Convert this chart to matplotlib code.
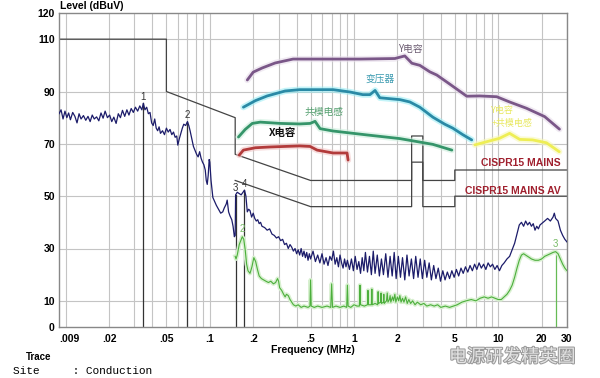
import matplotlib
matplotlib.use("Agg")
from matplotlib import pyplot as plt
from matplotlib import patheffects as pe
from matplotlib.ticker import FixedLocator, NullFormatter

CJK = ['Noto Sans CJK SC', 'DejaVu Sans']
plt.rcParams['font.family'] = ['Liberation Sans', 'Noto Sans CJK SC', 'DejaVu Sans']

# ---- data (MHz, dBuV) ----
xtick_vals = [0.009, 0.02, 0.05, 0.1, 0.2, 0.5, 1, 2, 5, 10, 20, 30]
xtick_text = ['.009', '.02', '.05', '.1', '.2', '.5', '1', '2', '5', '10', '20', '30']
ytick_vals = [0, 10, 30, 50, 70, 90, 110, 120]

qp_f = [0.009, 0.05, 0.05, 0.15, 0.15, 0.5, 2.51, 2.51, 3.0, 3.0, 5.0, 5.0, 30]
qp_v = [110, 110, 90, 80, 66, 56, 56, 73, 73, 56, 56, 60, 60]
av_f = [0.15, 0.5, 2.51, 2.51, 3.0, 3.0, 5.0, 5.0, 30]
av_v = [56, 46, 46, 63, 63, 46, 46, 50, 50]

blue_f = [0.0090, 0.0093, 0.0096, 0.0099, 0.0102, 0.0105, 0.0108, 0.0112, 0.0116, 0.0120,
          0.0124, 0.0128, 0.0133, 0.0138, 0.0143, 0.0148, 0.0153, 0.0158, 0.0164, 0.0170,
          0.0176, 0.0182, 0.0188, 0.0195, 0.0202, 0.0209, 0.0216, 0.0224, 0.0232, 0.0240,
          0.0248, 0.0257, 0.0266, 0.0275, 0.0285, 0.0295, 0.0305, 0.0316, 0.0327, 0.0338,
          0.0346, 0.0355, 0.0365, 0.0375, 0.0385, 0.0395, 0.0405, 0.0415, 0.0425, 0.0435,
          0.0445, 0.0455, 0.0470, 0.0485, 0.0500, 0.0515, 0.0530, 0.0545, 0.0560, 0.0575,
          0.0590, 0.0600, 0.0615, 0.0630, 0.0645, 0.0660, 0.0680, 0.0700, 0.0715, 0.0730,
          0.0750, 0.0770, 0.0790, 0.0810, 0.0830, 0.0850, 0.0870, 0.0890, 0.0910, 0.0930,
          0.0945, 0.0960, 0.0975, 0.0990, 0.1000, 0.1020, 0.1050, 0.1080, 0.1110, 0.1150,
          0.1190, 0.1230, 0.1260, 0.1300, 0.1320, 0.1350, 0.1380, 0.1420, 0.1450, 0.1480,
          0.1500, 0.1510, 0.1550, 0.1600, 0.1650, 0.1700, 0.1740, 0.1780, 0.1820, 0.1860,
          0.1900, 0.1950, 0.2000, 0.2050, 0.2100, 0.2150, 0.2200, 0.2250, 0.2300, 0.2400,
          0.2500, 0.2600, 0.2700, 0.2800, 0.2900, 0.3000, 0.3100, 0.3200, 0.3300, 0.3400,
          0.3500, 0.3600, 0.3700, 0.3800, 0.3900, 0.4000, 0.4100, 0.4200,
          0.43, 0.44, 0.45, 0.46, 0.47, 0.48, 0.49, 0.50, 0.52, 0.54,
          0.56, 0.58, 0.60, 0.62, 0.64, 0.66, 0.68, 0.70, 0.72, 0.74,
          0.76, 0.78, 0.80, 0.82, 0.84, 0.86, 0.88, 0.90, 0.93, 0.96,
          0.99, 1.02, 1.05, 1.08, 1.11, 1.14, 1.17, 1.20, 1.24, 1.28,
          1.32, 1.36, 1.40, 1.45, 1.50, 1.55, 1.60, 1.66, 1.72, 1.78,
          1.84, 1.90, 1.96, 2.03, 2.10, 2.17, 2.25, 2.33, 2.41, 2.50,
          2.59, 2.68, 2.78, 2.88, 2.98, 3.09, 3.20, 3.32, 3.44, 3.57,
          3.70, 3.84, 3.98, 4.13, 4.28, 4.44, 4.60, 4.77, 4.95, 5.13,
          5.32, 5.52, 5.72, 5.93, 6.15, 6.38, 6.62, 6.86, 7.11, 7.37,
          7.64, 7.92, 8.21, 8.51, 8.82, 9.14, 9.48, 9.83, 10.2,
          10.6, 11.0, 11.5, 12.0, 12.5, 13.0, 13.5, 14.0, 14.5, 15.0,
          15.5, 16.0, 16.5, 17.0, 17.5, 18.0, 18.5, 19.0, 19.5, 20.0,
          21.0, 22.0, 23.0, 24.0, 24.5, 25.0, 26.0, 27.0, 28.0, 29.0, 30.0]
blue_v = [81.5, 83.0, 79.5, 82.5, 80.0, 81.8, 79.2, 82.0, 80.5, 78.0,
          81.5, 79.5, 80.8, 79.0, 80.5, 78.5, 81.0, 79.5, 80.3, 78.8,
          81.8, 79.8, 82.5, 80.0, 81.0, 78.5, 80.2, 77.8, 81.5, 80.0,
          82.8, 80.5, 83.0, 81.0, 83.5, 82.0, 84.0, 82.5, 84.5, 83.0,
          85.5, 83.0, 84.0, 81.5, 82.0, 78.0, 77.0, 79.5, 76.0, 75.0,
          76.5, 74.0, 75.0, 73.5, 76.0, 74.5, 75.5, 73.5, 74.5, 72.5,
          73.0, 69.5, 72.0, 74.0, 76.0, 77.5, 77.0, 78.5, 77.0, 75.0,
          72.0, 69.0, 67.5, 66.0, 65.0, 67.0, 64.5, 63.0, 62.0, 60.0,
          56.0, 54.5, 58.0, 64.0, 63.0, 56.0, 49.5, 48.0, 46.5, 45.0,
          43.5, 44.0, 45.5, 47.0, 48.5, 44.0, 42.5, 41.0, 38.5, 34.5,
          35.0, 50.5, 51.5, 51.0, 50.5, 51.5, 52.3, 50.0, 44.0, 45.0,
          44.5, 42.0, 43.5, 41.5, 40.5, 41.0, 39.5, 40.0, 38.5, 38.0,
          37.0, 37.5, 35.5, 35.0, 34.0, 34.5, 33.0, 33.5, 31.5, 32.0,
          30.0, 31.5, 30.5, 29.0, 30.0, 28.0, 29.5, 27.5,
          30.0, 27.0, 29.0, 26.5, 28.5, 25.5, 28.0, 26.0, 29.0, 25.0,
          27.5, 24.5, 28.0, 24.0, 26.5, 23.5, 27.0, 25.5, 29.0, 24.0,
          26.5, 23.0, 27.5, 24.5, 22.5, 26.0, 23.0, 25.5, 22.0, 26.0,
          21.5, 27.0, 22.0, 25.0, 20.5, 26.5, 21.5, 28.5, 21.0, 27.0,
          20.0, 29.0, 20.5, 27.5, 19.5, 26.0, 20.0, 28.0, 19.0, 27.0,
          19.5, 28.5, 18.5, 27.0, 19.0, 26.5, 18.0, 27.5, 19.5, 26.0,
          18.5, 27.0, 19.0, 26.0, 18.5, 25.5, 19.0, 24.5, 18.0, 23.5,
          18.5, 22.5, 17.5, 21.5, 18.0, 21.0, 18.5, 21.5, 19.0, 22.0,
          19.5, 22.5, 20.5, 23.0, 21.0, 23.5, 21.5, 24.0, 22.0, 24.5,
          22.5, 24.0, 22.0, 24.5, 23.0, 24.0, 22.0, 23.5, 21.5,
          23.5, 24.5, 26.0, 27.0, 29.5, 32.0, 35.5, 39.0, 40.0, 38.5,
          40.5, 39.0, 40.0, 38.5, 39.5, 37.0, 38.5, 37.5, 39.0, 39.5,
          40.5, 41.5, 40.5, 42.0, 43.5, 41.5, 40.5, 37.0, 35.0, 33.5, 32.5]

green_f = [0.150, 0.152, 0.155, 0.160, 0.164, 0.168, 0.172, 0.176, 0.180, 0.184,
           0.190, 0.196, 0.202, 0.208, 0.214, 0.220, 0.228, 0.236, 0.245, 0.255,
           0.265, 0.276, 0.286, 0.295, 0.300, 0.305, 0.315, 0.325, 0.333, 0.340,
           0.350, 0.360, 0.370, 0.380, 0.395, 0.410, 0.430, 0.450, 0.480, 0.495,
           0.500, 0.505, 0.53, 0.56, 0.60, 0.65, 0.69, 0.70, 0.71, 0.75,
           0.80, 0.85, 0.89, 0.90, 0.91, 0.95, 1.00, 1.05, 1.09, 1.10,
           1.11, 1.18, 1.24, 1.25, 1.26, 1.32, 1.33, 1.34, 1.40, 1.46,
           1.47, 1.48, 1.53, 1.54, 1.55, 1.60, 1.61, 1.62, 1.68, 1.70,
           1.72, 1.76, 1.78, 1.80, 1.85, 1.88, 1.92, 1.95, 2.00, 2.04,
           2.08, 2.12, 2.17, 2.22, 2.28, 2.34, 2.40, 2.47, 2.55, 2.65,
           2.75, 2.90, 3.05, 3.20, 3.40, 3.60, 3.80, 4.00, 4.30, 4.60,
           4.90, 5.20, 5.60, 6.00, 6.50, 7.00, 7.50, 8.00, 8.50, 9.00,
           9.50, 10.0, 10.5, 11.0, 11.5, 12.0, 12.5, 13.0, 13.5, 14.0,
           14.5, 15.0, 15.5, 16.0, 16.5, 17.0, 18.0, 19.0, 20.0, 21.0,
           22.0, 23.0, 24.0, 25.0, 26.0, 27.0, 28.0, 29.0, 30.0]
green_v = [27.0, 26.0, 27.5, 31.5, 33.0, 34.5, 33.5, 29.5, 24.0, 21.5,
           20.5, 23.0, 26.5, 25.0, 22.0, 19.5, 18.5, 18.0, 17.5, 17.0,
           17.5, 16.5, 17.0, 18.5, 17.5, 15.0, 14.0, 12.5, 11.5, 12.5,
           12.0, 10.5, 9.5, 8.5, 8.0, 8.5, 7.5, 8.0, 7.5, 8.0,
           18.0, 8.0, 7.5, 8.0, 7.5, 8.0, 7.5, 16.5, 7.5, 8.0,
           7.5, 8.0, 7.5, 16.0, 8.0, 7.5, 8.5, 8.0, 8.0, 16.0,
           8.5, 8.0, 8.5, 14.0, 8.5, 8.5, 14.5, 8.5, 9.0, 8.5,
           13.5, 9.0, 9.5, 13.0, 9.0, 9.5, 12.5, 9.0, 10.0, 13.0,
           9.5, 10.5, 12.0, 9.5, 11.5, 10.0, 12.5, 9.5, 11.5, 10.0,
           12.0, 9.5, 11.0, 9.5, 11.5, 9.0, 10.5, 9.0, 10.0, 8.5,
           9.5, 8.5, 9.0, 8.0, 8.5, 8.0, 8.5, 7.5, 8.0, 7.5,
           8.0, 8.5, 9.5, 10.0, 10.5, 10.0, 11.0, 11.5, 11.0, 11.5,
           11.0, 10.5, 10.5, 11.5, 12.5, 14.0, 16.0, 19.0, 22.5, 25.5,
           27.5, 28.0, 27.5, 27.0, 26.5, 26.0, 25.5, 25.5, 26.0, 27.0,
           27.5, 28.0, 28.5, 28.8, 28.0, 26.0, 24.0, 22.5, 21.5]

# hand drawn annotation curves
ycap_f = [0.182, 0.20, 0.231, 0.284, 0.378, 0.58, 1.1, 1.92, 2.25, 2.52,
          2.86, 3.36, 3.75, 4.62, 6.05, 7.45, 9.77, 12.0, 15.7, 21.0, 26.6]
ycap_v = [94.4, 97.4, 99.0, 100.9, 102.4, 102.4, 102.4, 102.6, 103.6, 100.8,
          100.0, 97.5, 96.3, 92.8, 88.2, 88.3, 88.0, 86.0, 83.6, 80.4, 75.6]
xfmr_f = [0.171, 0.207, 0.25, 0.333, 0.42, 0.716, 0.94, 1.15, 1.29, 1.40,
          1.51, 2.08, 2.44, 2.86, 3.52, 4.26, 4.84, 5.68, 6.55]
xfmr_v = [84.0, 86.5, 88.3, 90.2, 90.7, 90.7, 89.8, 88.8, 88.8, 90.4,
          87.6, 86.9, 86.0, 84.0, 80.2, 77.5, 76.0, 73.5, 71.5]
cmc_f = [0.158, 0.176, 0.197, 0.224, 0.308, 0.42, 0.496, 0.537, 0.582, 0.716,
         1.23, 2.08, 3.52, 4.77]
cmc_v = [72.6, 75.5, 77.8, 78.3, 77.8, 77.6, 77.8, 78.6, 75.8, 74.9,
         73.4, 72.0, 69.8, 67.6]
xcap_f = [0.16, 0.171, 0.207, 0.262, 0.42, 0.496, 0.555, 0.716, 0.895, 0.91]
xcap_v = [65.7, 67.6, 68.5, 68.8, 69.2, 69.0, 67.6, 66.5, 66.5, 63.8]
ycmc_f = [6.9, 8.3, 10.2, 12.0, 14.1, 17.3, 21.6, 26.5]
ycmc_v = [69.6, 70.8, 72.1, 74.0, 71.7, 71.5, 70.4, 67.0]

# peak markers
mark_f = [0.0346, 0.070, 0.151, 0.174]
mark_v = [85.5, 78.5, 50.5, 52.3]
mark_t = ['1', '2', '3', '4']
gmark_f = [0.168, 25.0]
gmark_v = [34.5, 28.8]
gmark_t = ['2', '3']

grid_f = [0.01, 0.02, 0.03, 0.04, 0.05, 0.06, 0.07, 0.08, 0.09,
          0.1, 0.2, 0.3, 0.4, 0.5, 0.6, 0.7, 0.8, 0.9,
          1, 2, 3, 4, 5, 6, 7, 8, 9, 10, 20, 30]

fig = plt.figure(figsize=(6, 3.78), dpi=100)
ax = fig.add_axes([59 / 600, 51 / 378, 508 / 600, 314 / 378])
ax.set_xscale('log')
ax.set_xlim(0.009, 30)
ax.set_ylim(0, 120)

ax.xaxis.set_major_locator(FixedLocator(xtick_vals))
ax.xaxis.set_major_formatter(plt.FixedFormatter(xtick_text))
ax.xaxis.set_minor_locator(FixedLocator(grid_f))
ax.xaxis.set_minor_formatter(NullFormatter())
ax.set_yticks(ytick_vals)
ax.tick_params(which='both', length=0)
ax.tick_params(axis='x', pad=5)
ax.tick_params(axis='y', pad=3)
for lab in ax.get_xticklabels() + ax.get_yticklabels():
    lab.set_fontsize(7.5)
    lab.set_fontweight('bold')
ax.get_xticklabels()[0].set_ha('left')
ax.grid(False)
for g in grid_f:
    ax.axvline(g, color='#c4c4c4', lw=0.8, zorder=0)
for g in ytick_vals[1:-1]:
    ax.axhline(g, color='#c4c4c4', lw=0.8, zorder=0)
for s in ax.spines.values():
    s.set_color('#888888')
    s.set_linewidth(1)

# limits
ax.plot(qp_f, qp_v, color='#444444', lw=0.9, zorder=2)
ax.plot(av_f, av_v, color='#444444', lw=0.9, zorder=2)

# marker lines
for f, v, t in zip(mark_f, mark_v, mark_t):
    ax.plot([f, f], [0, v], color='#333333', lw=0.9, zorder=2)
    ax.text(f, v + 2.5, t, fontsize=7, color='#333333', ha='center', va='center')
ax.plot([gmark_f[1], gmark_f[1]], [0, gmark_v[1]], color='#66bb55', lw=0.9, zorder=2)
for f, v, t in zip(gmark_f, gmark_v, gmark_t):
    ax.text(f, v + 3, t, fontsize=7, color='#77bb66', ha='center', va='center')

# traces
ax.plot(green_f, green_v, color='#d8f0d0', lw=3, zorder=3)
ax.plot(green_f, green_v, color='#4caf3c', lw=0.8, zorder=4)
ax.plot(blue_f, blue_v, color='#1c1c6a', lw=0.9, zorder=5)

# annotation curves
def glow_line(fx, vy, col, glow):
    ax.plot(fx, vy, color=glow, lw=4.5, alpha=0.6, solid_capstyle='round', zorder=6)
    ax.plot(fx, vy, color=col, lw=2, solid_capstyle='round', zorder=7)

glow_line(ycap_f, ycap_v, '#7a5788', '#e6dcea')
glow_line(xfmr_f, xfmr_v, '#2a8aa6', '#9eeef5')
glow_line(cmc_f, cmc_v, '#35956a', '#cdeedd')
glow_line(xcap_f, xcap_v, '#b23b3b', '#f2c8c8')
glow_line(ycmc_f, ycmc_v, '#eeee55', '#f8f8b8')

ax.text(2.44, 106.2, 'Y电容', family=CJK, fontsize=7, color='#6a5a70', ha='center', va='center')
ax.text(1.51, 94.8, '变压器', family=CJK, fontsize=7, color='#3a9ab0', ha='center', va='center')
ax.text(0.62, 82.2, '共模电感', family=CJK, fontsize=7, color='#55a070', ha='center', va='center')
ax.text(0.317, 74.1, 'X电容', family=CJK, fontsize=7.5, color='#111111', fontweight='bold',
        ha='center', va='center')
ax.text(10.7, 82.9, 'Y电容', family=CJK, fontsize=6.5, color='#e8e860', ha='center', va='center')
ax.text(12.4, 77.6, '+共模电感', family=CJK, fontsize=6.5, color='#e8e860', ha='center', va='center')
ax.text(27.1, 62.7, 'CISPR15 MAINS', fontsize=7.5, color='#a0202e', fontweight='bold',
        ha='right', va='center', zorder=8)
ax.text(27.1, 52.0, 'CISPR15 MAINS AV', fontsize=7.5, color='#a0202e', fontweight='bold',
        ha='right', va='center', zorder=8)

# outside labels
fig.text(60 / 600, 1 - 6 / 378, 'Level (dBuV)', fontsize=7.5, fontweight='bold', va='center')
fig.text(313 / 600, 1 - 350 / 378, 'Frequency (MHz)', fontsize=7.5, fontweight='bold',
         ha='center', va='center')
fig.text(26 / 600, 1 - 357 / 378, 'Trace', fontsize=7, fontweight='bold', va='center')
fig.text(13 / 600, 1 - 371 / 378, 'Site     : Conduction', family='Liberation Mono',
         fontsize=8, va='center')
fig.text(512 / 600, 1 - 357 / 378, '电源研发精英圈', family=CJK, fontsize=13, color='#e4e4e4',
         ha='center', va='center',
         path_effects=[pe.withStroke(linewidth=1.5, foreground='#9a9a9a')])

fig.savefig('out.png', dpi=100)
